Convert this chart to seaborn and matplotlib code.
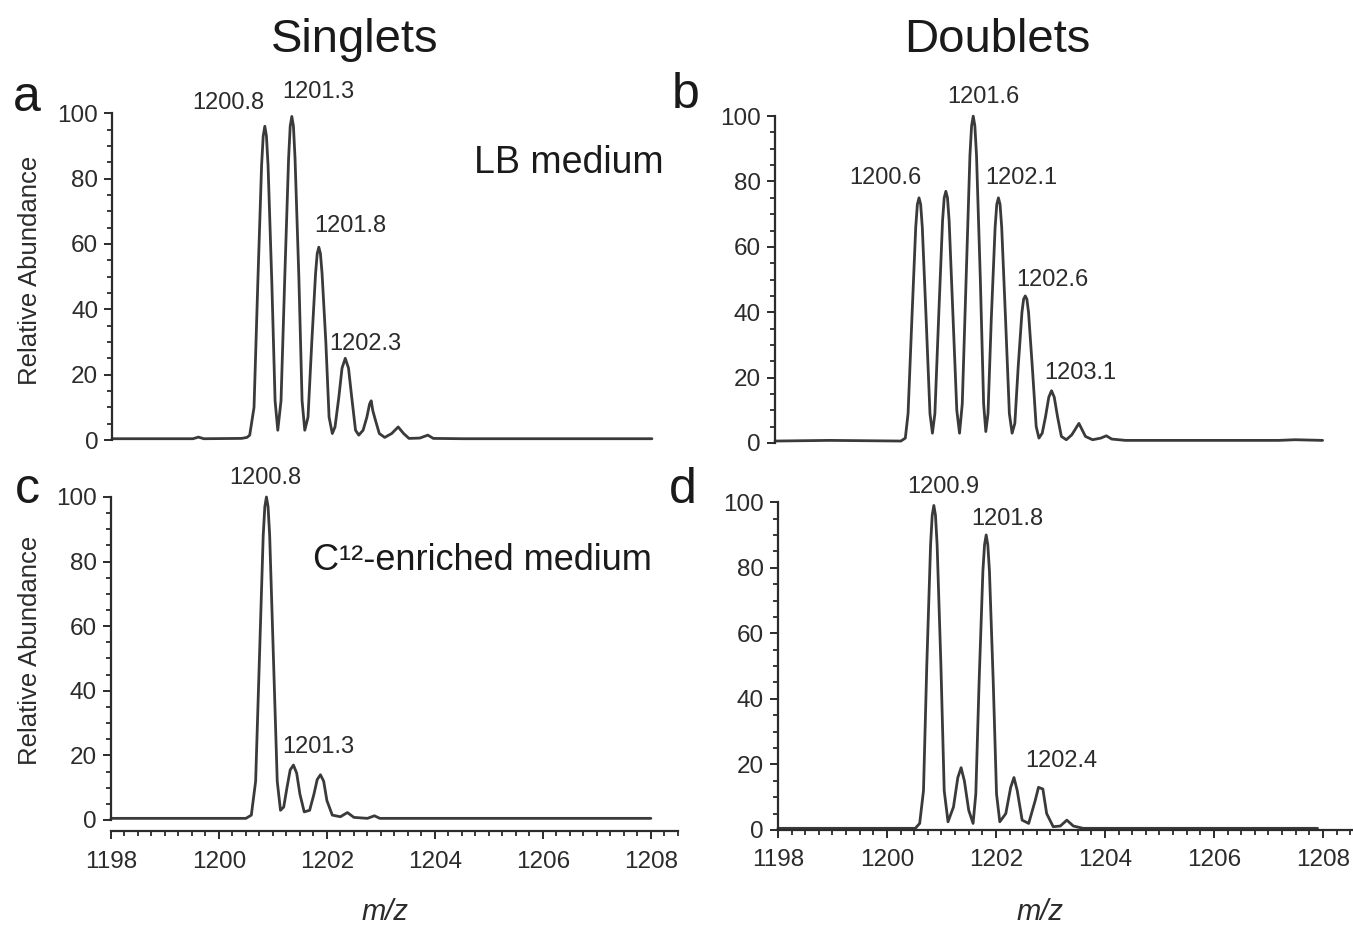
import matplotlib
matplotlib.use('Agg')
import matplotlib.pyplot as plt
import seaborn as sns
from matplotlib.ticker import MultipleLocator

# spectrum traces (m/z, relative abundance)
mz_a = [1198.0, 1199.5, 1199.6, 1199.7, 1200.4, 1200.5,
        1200.55, 1200.63, 1200.7, 1200.77, 1200.8, 1200.83, 1200.86, 1200.89, 1200.96, 1201.02, 1201.07,
        1201.13, 1201.2, 1201.27, 1201.3, 1201.33, 1201.36, 1201.39, 1201.46, 1201.52, 1201.57,
        1201.63, 1201.7, 1201.77, 1201.8, 1201.83, 1201.86, 1201.89, 1201.96, 1202.02, 1202.08,
        1202.13, 1202.2, 1202.26, 1202.32, 1202.38, 1202.44, 1202.51, 1202.57,
        1202.65, 1202.72, 1202.77, 1202.8, 1202.83, 1202.88, 1202.95, 1203.05,
        1203.18, 1203.3, 1203.4, 1203.5, 1203.7, 1203.85, 1203.95, 1204.5, 1208.0]
ab_a = [0.4, 0.4, 0.9, 0.4, 0.5, 0.8,
        1.5, 10, 48, 84, 93, 96, 93, 84, 48, 12, 3,
        12, 50, 86, 96, 99, 96, 86, 50, 12, 3,
        7, 30, 51, 57, 59, 57, 51, 30, 7, 2,
        4, 13, 22, 25, 22, 13, 3, 1.5,
        3, 7, 11, 12, 9, 6, 2, 0.8,
        2, 4, 2, 0.5, 0.6, 1.5, 0.5, 0.4, 0.4]

mz_b = [1198.0, 1199.0, 1200.3,
        1200.38, 1200.43, 1200.5, 1200.57, 1200.6, 1200.63, 1200.66, 1200.69, 1200.76, 1200.83, 1200.875,
        1200.92, 1200.99, 1201.06, 1201.09, 1201.12, 1201.15, 1201.18, 1201.25, 1201.32, 1201.37,
        1201.42, 1201.49, 1201.56, 1201.59, 1201.62, 1201.65, 1201.68, 1201.75, 1201.81, 1201.85,
        1201.89, 1201.95, 1202.02, 1202.05, 1202.08, 1202.11, 1202.14, 1202.21, 1202.28, 1202.33,
        1202.38, 1202.44, 1202.51, 1202.54, 1202.57, 1202.6, 1202.63, 1202.7, 1202.77, 1202.82,
        1202.88, 1202.94, 1203.0, 1203.05, 1203.1, 1203.16, 1203.23, 1203.32,
        1203.42, 1203.55, 1203.67, 1203.8,
        1203.95, 1204.05, 1204.15, 1204.4, 1206.0, 1207.2, 1207.5, 1208.0]
ab_b = [0.6, 0.8, 0.6,
        1.5, 9, 38, 66, 73, 75, 73, 66, 38, 9, 3,
        9, 39, 68, 75, 77, 75, 68, 39, 10, 3,
        12, 50, 88, 97, 100, 97, 88, 50, 12, 3.5,
        9, 38, 66, 73, 75, 73, 66, 38, 9, 3,
        6, 23, 40, 44, 45, 44, 40, 23, 5, 1.5,
        3, 8, 14, 16, 14, 8, 2, 1,
        2.5, 6, 2, 1,
        1.5, 2.2, 1.2, 0.8, 0.8, 0.8, 1.0, 0.8]

mz_c = [1198.0, 1200.5,
        1200.6, 1200.68, 1200.75, 1200.82, 1200.85, 1200.88, 1200.91, 1200.94, 1201.01, 1201.08, 1201.14,
        1201.2, 1201.26, 1201.32, 1201.38, 1201.44, 1201.5, 1201.58,
        1201.68, 1201.76, 1201.82, 1201.88, 1201.94, 1202.0, 1202.1,
        1202.25, 1202.38, 1202.5, 1202.75, 1202.88, 1202.98, 1208.0]
ab_c = [0.5, 0.5,
        1.5, 12, 50, 88, 97, 100, 97, 88, 50, 12, 3,
        4, 10, 15.5, 17, 14.5, 8, 2.5,
        3, 8, 12.5, 14, 12, 6, 1.5,
        1, 2.3, 0.8, 0.5, 1.3, 0.5, 0.5]

mz_d = [1198.0, 1200.52,
        1200.6, 1200.67, 1200.73, 1200.8, 1200.83, 1200.86, 1200.89, 1200.92, 1200.99, 1201.05, 1201.12,
        1201.22, 1201.3, 1201.36, 1201.42, 1201.5, 1201.58,
        1201.63, 1201.69, 1201.76, 1201.79, 1201.82, 1201.85, 1201.88, 1201.95, 1202.01, 1202.07,
        1202.18, 1202.27, 1202.33, 1202.39, 1202.48, 1202.6,
        1202.72, 1202.78, 1202.86, 1202.93, 1203.05,
        1203.18, 1203.3, 1203.42, 1203.6, 1207.9]
ab_d = [0.5, 0.5,
        2, 12, 50, 87, 96, 99, 96, 87, 50, 12, 2.5,
        7, 16, 19, 15, 6, 2,
        11, 45, 79, 87, 90, 87, 79, 45, 11, 2.5,
        5, 13, 16, 12, 3, 2,
        9, 13, 12.5, 5, 1,
        1.2, 3, 1.2, 0.5, 0.5]

# peak labels: text, label x (m/z), label y (abundance)
labels_a = [('1200.8', 1200.15, 103), ('1201.3', 1201.82, 106.5),
            ('1201.8', 1202.42, 65.5), ('1202.3', 1202.69, 29.5)]
labels_b = [('1201.6', 1201.8, 106), ('1200.6', 1200.02, 81),
            ('1202.1', 1202.5, 81), ('1202.6', 1203.06, 50), ('1203.1', 1203.57, 21.5)]
labels_c = [('1200.8', 1200.86, 106), ('1201.3', 1201.84, 22.5)]
labels_d = [('1200.9', 1201.04, 104.5), ('1201.8', 1202.21, 95), ('1202.4', 1203.2, 21)]

sns.set_theme(style='ticks')
plt.rcParams['font.family'] = ['Liberation Sans', 'DejaVu Sans']

ink = '#2b2b2b'
fig = plt.figure(figsize=(13.53, 9.26), dpi=100)

panels = [
    ('a', [0.0828, 0.5248, 0.4190, 0.3530], 1208.5, mz_a, ab_a, labels_a, False),
    ('b', [0.5728, 0.5216, 0.4290, 0.3530], 1208.6, mz_b, ab_b, labels_b, False),
    ('c', [0.0820, 0.1145, 0.4190, 0.3488], 1208.5, mz_c, ab_c, labels_c, True),
    ('d', [0.5750, 0.1037, 0.4290, 0.3540], 1208.65, mz_d, ab_d, labels_d, True),
]

axes = {}
for key, rect, xr, mz, ab, labs, bottom in panels:
    ax = fig.add_axes(rect)
    axes[key] = ax
    sns.lineplot(x=mz, y=ab, ax=ax, color='#3a3a3a', linewidth=2.0,
                 sort=False, estimator=None)
    ax.set_xlim(1198, xr)
    ax.set_ylim(0, 100)
    ax.set_xlabel('')
    ax.set_ylabel('')
    for t, x, y in labs:
        ax.text(x, y, t, ha='center', va='center', fontsize=17, color=ink,
                clip_on=False)
    for s in ['top', 'right']:
        ax.spines[s].set_visible(False)
    ax.spines['left'].set_color(ink)
    ax.spines['left'].set_linewidth(1.6)
    ax.yaxis.set_major_locator(MultipleLocator(20))
    ax.yaxis.set_minor_locator(MultipleLocator(5))
    ax.tick_params(axis='y', which='major', length=6, width=1.4, color=ink,
                   labelsize=17.5, labelcolor=ink, pad=4)
    ax.tick_params(axis='y', which='minor', length=3.5, width=1.3, color=ink)
    if bottom:
        ax.spines['bottom'].set_color(ink)
        ax.spines['bottom'].set_linewidth(1.6)
        if key == 'c':
            ax.spines['bottom'].set_position(('outward', 8))
        ax.xaxis.set_major_locator(MultipleLocator(2))
        ax.xaxis.set_minor_locator(MultipleLocator(0.25))
        ax.tick_params(axis='x', which='major', length=6, width=1.4, color=ink,
                       labelsize=17.5, labelcolor=ink, pad=8)
        ax.tick_params(axis='x', which='minor', length=3.5, width=1.3, color=ink)
    else:
        ax.spines['bottom'].set_visible(False)
        ax.set_xticks([])
    for line in ax.get_lines():
        line.set_clip_on(False)

axes['a'].text(1206.46, 84.7, 'LB medium', ha='center', va='center',
               fontsize=27, color='#1a1a1a')
axes['c'].text(1204.88, 80.2, 'C\u00b9\u00b2-enriched medium', ha='center',
               va='center', fontsize=26, color='#1a1a1a')

fig.text(0.2624, 0.957, 'Singlets', ha='center', va='center', fontsize=34, color='#1a1a1a')
fig.text(0.737, 0.957, 'Doublets', ha='center', va='center', fontsize=34, color='#1a1a1a')

for letter, x, y in [('a', 0.020, 0.894), ('b', 0.507, 0.897),
                     ('c', 0.020, 0.471), ('d', 0.505, 0.471)]:
    fig.text(x, y, letter, ha='center', va='center', fontsize=36, color='#1a1a1a')

fig.text(0.022, 0.708, 'Relative Abundance', rotation=90, ha='center', va='center',
         fontsize=18.5, color=ink)
fig.text(0.022, 0.298, 'Relative Abundance', rotation=90, ha='center', va='center',
         fontsize=18.5, color=ink)
fig.text(0.2846, 0.015, 'm/z', ha='center', va='center', fontsize=21,
         style='italic', color=ink)
fig.text(0.7687, 0.015, 'm/z', ha='center', va='center', fontsize=21,
         style='italic', color=ink)

fig.savefig('out.png', dpi=100)
